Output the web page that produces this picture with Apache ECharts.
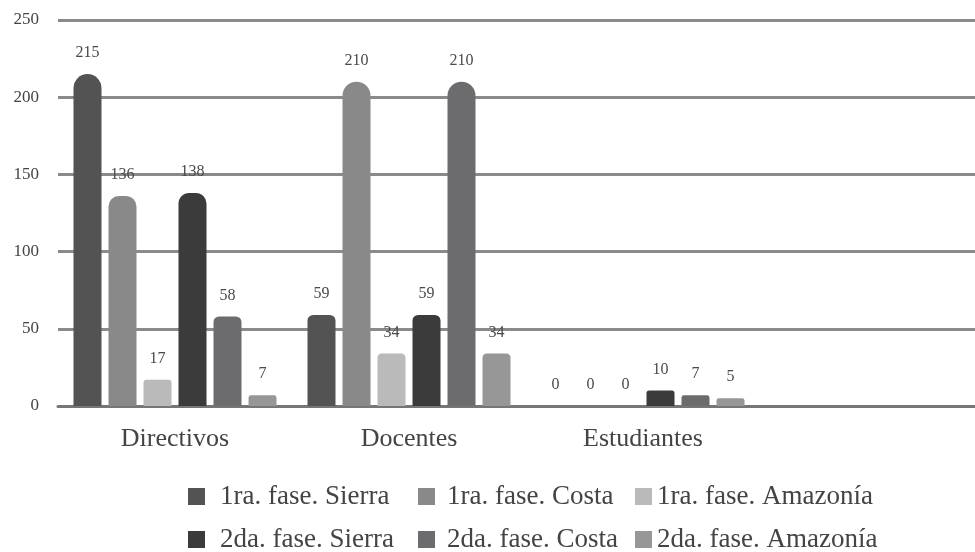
<!DOCTYPE html>
<html>
<head>
<meta charset="utf-8">
<script src="https://cdn.jsdelivr.net/npm/echarts@6/dist/echarts.min.js"></script>
<style>
  html, body { margin: 0; padding: 0; background: #fff; overflow: hidden; }
  /* the drawing surface runs slightly past the window on the right, so the empty last band is cut off */
  #wrap { width: 975px; height: 552px; overflow: hidden; }
  #chart { width: 994px; height: 552px; }
</style>
</head>
<body>
<div id="wrap"><div id="chart"></div></div>
<script>
// Categories (the last slot is an empty band that keeps the plot running to the right edge)
const categories = ['Directivos', 'Docentes', 'Estudiantes', ''];

// Counts per group and phase
const seriesNames = [
  '1ra. fase. Sierra', '1ra. fase. Costa', '1ra. fase. Amazonía',
  '2da. fase. Sierra', '2da. fase. Costa', '2da. fase. Amazonía'
];
const fase1Sierra = [215, 59, 0];
const fase1Costa = [136, 210, 0];
const fase1Amazonia = [17, 34, 0];
const fase2Sierra = [138, 59, 10];
const fase2Costa = [58, 210, 7];
const fase2Amazonia = [7, 34, 5];

const yTicks = [0, 50, 100, 150, 200, 250];

const values = [fase1Sierra, fase1Costa, fase1Amazonia, fase2Sierra, fase2Costa, fase2Amazonia];
const colors = ['#535353', '#898989', '#bababa', '#3b3b3b', '#6c6c6e', '#979797'];

const FONT = 'Liberation Serif';

// Rounded cylinder-like caps: taller bars get a fuller dome
function capRadius(v) {
  const r = Math.min(14, 2 + v / 16);
  return [r, r, 0, 0];
}

const series = seriesNames.map((name, i) => ({
  name: name,
  type: 'bar',
  barWidth: 28,
  barGap: '25%',
  itemStyle: { color: colors[i] },
  label: {
    show: true,
    position: 'top',
    distance: 13,
    color: '#4a4a4a',
    fontFamily: FONT,
    fontSize: 16
  },
  data: values[i].map(v => ({ value: v, itemStyle: { borderRadius: capRadius(v) } }))
}));

// Legend layout: one legend per entry, laid out in two rows of three
const legendCols = [
  { left: 188, gap: 10 },
  { left: 418, gap: 7 },
  { left: 635, gap: 0 }
];
const legendRows = [483, 526];
const legends = seriesNames.map((name, i) => {
  const col = legendCols[i % 3];
  return {
    data: [name],
    left: col.left,
    top: legendRows[Math.floor(i / 3)],
    padding: 0,
    icon: 'rect',
    itemWidth: 17,
    itemHeight: 17,
    selectedMode: false,
    textStyle: {
      fontFamily: FONT,
      fontSize: 27,
      color: '#444',
      padding: [0, 0, 0, col.gap]
    }
  };
});

const chart = echarts.init(document.getElementById('chart'), null, { renderer: 'canvas' });
chart.setOption({
  animation: false,
  backgroundColor: '#ffffff',
  grid: { left: 58, top: 20, right: 0, height: 386, containLabel: false },
  legend: legends,
  xAxis: {
    type: 'category',
    data: categories,
    axisTick: { show: false },
    axisLine: { lineStyle: { color: '#767676', width: 3 } },
    axisLabel: {
      fontFamily: FONT,
      fontSize: 26,
      color: '#444',
      margin: 20,
      interval: 0
    }
  },
  yAxis: {
    type: 'value',
    min: yTicks[0],
    max: yTicks[yTicks.length - 1],
    interval: yTicks[1] - yTicks[0],
    axisLine: { show: false },
    axisTick: { show: false },
    splitLine: { lineStyle: { color: '#8a8a8a', width: 3 } },
    axisLabel: {
      fontFamily: FONT,
      fontSize: 17,
      color: '#444',
      margin: 19
    }
  },
  series: series
});
</script>
</body>
</html>
